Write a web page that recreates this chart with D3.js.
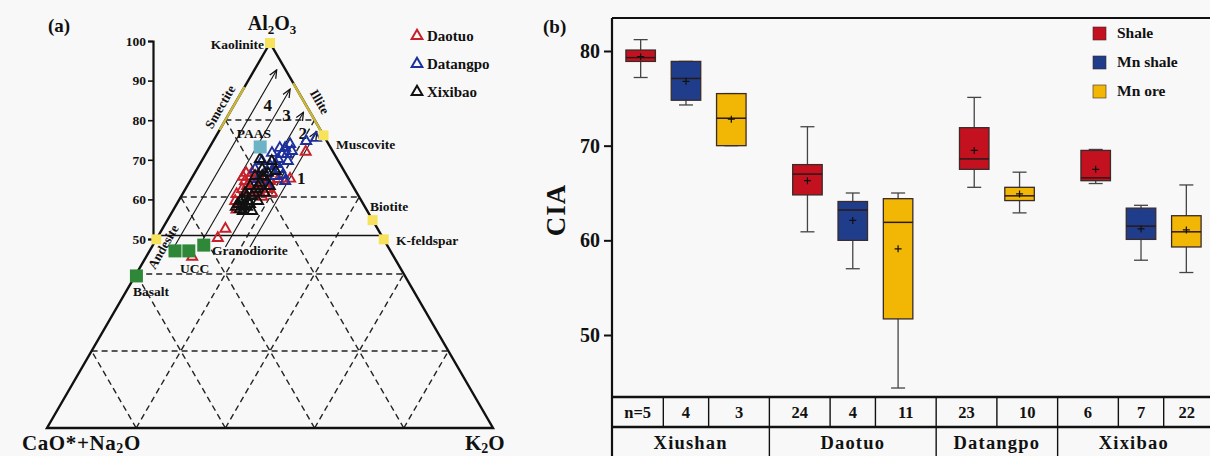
<!DOCTYPE html>
<html>
<head>
<meta charset="utf-8">
<script src="https://cdn.jsdelivr.net/npm/d3@7/dist/d3.min.js"></script>
<style>
  body { margin: 0; background: #f8f8f8; }
  svg { display: block; font-family: "Liberation Serif", "Times New Roman", serif; font-weight: bold; }
</style>
</head>
<body>
<div id="chart"></div>
<script>
// ---------- (a) A-CN-K ternary data (wt%, CN = 100 - A - K) ----------
var daotuoA = [72, 65, 57, 61, 52, 49.6, 44.7, 64.4, 65.5, 63.6, 64.9, 62.3, 61.8, 61.8, 63.1, 64.4, 64.9, 60.5, 60.3, 59.2, 66.5, 61.3, 65.5, 66.5, 66, 63.1, 62.3];
var daotuoK = [22, 22, 14, 12, 14, 13.5, 10.2, 12.2, 12.7, 14.8, 15.3, 12.6, 14.2, 16.4, 17.3, 17.8, 19.4, 15.7, 18.1, 12.6, 11.4, 19.8, 11.2, 12.7, 14.3, 13.3, 18.4];
var datangpoA = [74.8, 75.6, 73, 74, 71.4, 72.2, 70.1, 68.3, 67.5, 66.5, 65.7, 69.6, 64.9, 64.4, 63.1, 67.5, 69.6, 71.7, 73, 71.4, 68.8, 66];
var datangpoK = [20.7, 22.5, 16.9, 17.5, 17, 18.8, 16.8, 15.9, 18.5, 15.6, 18.3, 13.4, 14.9, 21.2, 18, 12.9, 19.2, 14.6, 15.7, 18.1, 16.9, 19.9];
var xixibaoA = [70.1, 69.6, 56.6, 58.4, 59.7, 59.2, 61.3, 60.5, 62.3, 63.9, 65.5, 67.5, 66.5, 65.7, 63.1, 61.3, 57.1, 59.2, 63.1, 67, 57.7, 57.7, 59.2, 57.9, 58.4, 60.3, 61.3, 56.6, 63.1, 65.7];
var xixibaoK = [12.7, 15.6, 17.7, 13.6, 13.9, 15.5, 13.8, 15.7, 15.7, 15.8, 15.9, 14.5, 16.3, 13.8, 14, 18.2, 14.7, 17.7, 18.4, 17.8, 13.5, 16, 13.7, 15.2, 16.3, 14.5, 15.8, 15.6, 15.8, 15.4];

var mineralNames = ["Kaolinite", "Muscovite", "Biotite", "K-feldspar", ""];
var mineralA = [100, 76, 54, 49, 49];
var mineralK = [0, 24, 46, 51, 0];

var rockNames = ["Andesite", "UCC", "Granodiorite", "Basalt"];
var rockA = [46, 46, 47.5, 39.5];
var rockK = [5.7, 8.8, 11.4, 0.3];

var paasA = 73, paasK = 11.3;

// ideal weathering trends (constant K), numbered 1-4
var trendLabels = ["1", "2", "3", "4"];
var trendK = [22, 16.5, 10.5, 5];
var trendAStart = [47, 47, 47, 47];
var trendAEnd = [77, 82, 88, 93];

var gridLevels = [20, 40, 60, 80];
var axisTicks = [50, 60, 70, 80, 90, 100];

// ---------- (b) CIA box plots ----------
var sites = ["Xiushan", "Daotuo", "Datangpo", "Xixibao"];
var rockTypes = ["Shale", "Mn shale", "Mn ore"];
var boxSite = ["Xiushan", "Xiushan", "Xiushan", "Daotuo", "Daotuo", "Daotuo", "Datangpo", "Datangpo", "Xixibao", "Xixibao", "Xixibao"];
var boxType = ["Shale", "Mn shale", "Mn ore", "Shale", "Mn shale", "Mn ore", "Shale", "Mn ore", "Shale", "Mn shale", "Mn ore"];
var boxN = ["n=5", "4", "3", "24", "4", "11", "23", "10", "6", "7", "22"];
var ciaMin = [77.2, 74.3, 70.0, 60.9, 57.0, 44.4, 65.6, 62.9, 66.0, 57.9, 56.6];
var ciaQ1 = [78.9, 74.8, 70.0, 64.8, 60.0, 51.7, 67.5, 64.2, 66.3, 60.1, 59.3];
var ciaMedian = [79.3, 77.1, 72.9, 67.0, 63.2, 61.9, 68.6, 64.7, 66.6, 61.5, 60.9];
var ciaQ3 = [80.1, 78.9, 75.5, 68.0, 64.1, 64.4, 71.9, 65.6, 69.5, 63.4, 62.6];
var ciaMax = [81.2, 78.9, 75.5, 72.0, 65.0, 65.0, 75.1, 67.2, 69.6, 63.7, 65.85];
var ciaMean = [79.4, 76.8, 72.8, 66.3, 62.1, 59.1, 69.5, 64.9, 67.5, 61.2, 61.1];
var ciaTicks = [50, 60, 70, 80];

var W = 1210, H = 456;
var svg = d3.select("#chart").append("svg").attr("width", W).attr("height", H);

// ===================== panel (a) =====================
var ga = svg.append("g");
var baseX = d3.scaleLinear().domain([0, 100]).range([47, 493]);
var yA = d3.scaleLinear().domain([0, 100]).range([428, 43]);
function px(A, K) { return baseX(K + A / 2); }
function py(A) { return yA(A); }

// dashed grid
var gridLines = [];
gridLevels.forEach(function(v) {
  gridLines.push([[v, 0], [v, 100 - v]]);          // constant A
  gridLines.push([[0, v], [100 - v, v]]);          // constant K
  gridLines.push([[0, 100 - v], [100 - v, 0]]);    // constant CN
});
ga.selectAll(".grid").data(gridLines).enter().append("line")
  .attr("x1", function(d) { return px(d[0][0], d[0][1]); })
  .attr("y1", function(d) { return py(d[0][0]); })
  .attr("x2", function(d) { return px(d[1][0], d[1][1]); })
  .attr("y2", function(d) { return py(d[1][0]); })
  .attr("stroke", "#222").attr("stroke-width", 1.4).attr("stroke-dasharray", "6,4");

// outline
ga.append("path")
  .attr("d", "M" + px(100, 0) + "," + py(100) + "L" + px(0, 0) + "," + py(0) + "L" + px(0, 100) + "," + py(0) + "Z")
  .attr("fill", "none").attr("stroke", "#111").attr("stroke-width", 2.4);
ga.append("line")
  .attr("x1", px(50, 0)).attr("y1", py(50)).attr("x2", px(50, 50)).attr("y2", py(50))
  .attr("stroke", "#111").attr("stroke-width", 1.7);

// smectite / illite bands
ga.append("line").attr("x1", px(77.4, 0)).attr("y1", py(77.4)).attr("x2", px(88.6, 0)).attr("y2", py(88.6))
  .attr("stroke", "#c9b63a").attr("stroke-width", 2.4);
ga.append("line").attr("x1", px(76.6, 23.4)).attr("y1", py(76.6)).attr("x2", px(89.6, 10.4)).attr("y2", py(89.6))
  .attr("stroke", "#c9b63a").attr("stroke-width", 2.4);

// weathering trend arrows
svg.append("defs").append("marker")
  .attr("id", "arr").attr("viewBox", "0 0 10 10").attr("refX", 9).attr("refY", 5)
  .attr("markerWidth", 9).attr("markerHeight", 9).attr("markerUnits", "userSpaceOnUse").attr("orient", "auto")
  .append("path").attr("d", "M0,1 L9,5 L0,9").attr("fill", "none").attr("stroke", "#111").attr("stroke-width", 1.4);
ga.selectAll(".trend").data(trendK).enter().append("line")
  .attr("x1", function(d, i) { return px(trendAStart[i], d); })
  .attr("y1", function(d, i) { return py(trendAStart[i]); })
  .attr("x2", function(d, i) { return px(trendAEnd[i], d); })
  .attr("y2", function(d, i) { return py(trendAEnd[i]); })
  .attr("stroke", "#111").attr("stroke-width", 1.1).attr("marker-end", "url(#arr)");
var trendLabelA = [65, 76.6, 81.3, 83.9];
ga.selectAll(".tl").data(trendLabels).enter().append("text")
  .attr("x", function(d, i) { return px(trendLabelA[i], trendK[i]) + 7; })
  .attr("y", function(d, i) { return py(trendLabelA[i]) + 6; })
  .attr("font-size", 17).attr("fill", "#111").text(function(d) { return d; });

// left axis
var axisY = d3.scaleLinear().domain([50, 100]).range([239, 41]);
var axA = ga.append("g").attr("transform", "translate(153,0)")
  .call(d3.axisLeft(axisY).tickValues(axisTicks).tickSize(5).tickPadding(2));
axA.select(".domain").attr("stroke", "#111").attr("stroke-width", 2.2);
axA.selectAll(".tick line").attr("stroke", "#111").attr("stroke-width", 1.6);
axA.selectAll(".tick text").attr("font-family", "Liberation Serif, serif").attr("font-weight", "bold")
  .attr("font-size", 13.5).attr("fill", "#111");

// sample triangles
var tri = d3.symbol().type(d3.symbolTriangle).size(44);
var groups = [
  { name: "Daotuo", A: daotuoA, K: daotuoK, color: "#c8202b" },
  { name: "Datangpo", A: datangpoA, K: datangpoK, color: "#1c2f9c" },
  { name: "Xixibao", A: xixibaoA, K: xixibaoK, color: "#111111" }
];
groups.forEach(function(g) {
  ga.selectAll(null).data(g.A).enter().append("path")
    .attr("d", tri)
    .attr("transform", function(d, i) { return "translate(" + px(d, g.K[i]) + "," + (py(d) + 1) + ")"; })
    .attr("fill", "none").attr("stroke", g.color).attr("stroke-width", 1.9);
});

// minerals
ga.selectAll(".min").data(mineralA).enter().append("rect")
  .attr("x", function(d, i) { return px(d, mineralK[i]) - 5; })
  .attr("y", function(d) { return py(d) - 5; })
  .attr("width", 10).attr("height", 10).attr("fill", "#f7e25c");
// rocks
ga.selectAll(".rock").data(rockA).enter().append("rect")
  .attr("x", function(d, i) { return px(d, rockK[i]) - 6.5; })
  .attr("y", function(d) { return py(d) - 6.5; })
  .attr("width", 13).attr("height", 13).attr("fill", "#2e8838");
// PAAS
ga.append("rect").attr("x", px(paasA, paasK) - 6.5).attr("y", py(paasA) - 6.5)
  .attr("width", 13).attr("height", 13).attr("fill", "#6db3c6");

// labels
function lab(x, y, t, size, anchor, rot) {
  var e = ga.append("text").attr("x", x).attr("y", y).attr("font-size", size)
    .attr("text-anchor", anchor || "start").attr("fill", "#111").text(t);
  if (rot) e.attr("transform", "rotate(" + rot + "," + x + "," + y + ")");
  return e;
}
lab(264, 49, "Kaolinite", 13.5, "end");
lab(336, 149, "Muscovite", 13.5);
lab(370, 211, "Biotite", 13.5);
lab(396, 245, "K-feldspar", 13.5);
lab(212, 255, "Granodiorite", 13.5);
lab(180, 273, "UCC", 13.5);
lab(133, 296, "Basalt", 13.5);
lab(254, 138, "PAAS", 13.5, "middle");
lab(167, 249, "Andesite", 13, "middle", -60);
lab(224, 109, "Smectite", 13, "middle", -60);
lab(316, 104, "Illite", 13, "middle", 60);

lab(48, 32, "(a)", 19);
var t1 = lab(272, 30, "Al", 20, "middle");
t1.append("tspan").attr("font-size", 13).attr("dy", 4).text("2");
t1.append("tspan").attr("dy", -4).text("O");
t1.append("tspan").attr("font-size", 13).attr("dy", 4).text("3");
var t2 = lab(22, 450, "CaO*+Na", 21).attr("letter-spacing", 0.6);
t2.append("tspan").attr("font-size", 14).attr("dy", 3).text("2");
t2.append("tspan").attr("dy", -3).text("O");
var t3 = lab(465, 450, "K", 21);
t3.append("tspan").attr("font-size", 14).attr("dy", 3).text("2");
t3.append("tspan").attr("dy", -3).text("O");

// legend (a)
groups.forEach(function(g, i) {
  ga.append("path").attr("d", d3.symbol().type(d3.symbolTriangle).size(50))
    .attr("transform", "translate(417," + (36 + i * 28) + ")")
    .attr("fill", "none").attr("stroke", g.color).attr("stroke-width", 2);
  lab(427, 41 + i * 28, g.name, 15);
});

// ===================== panel (b) =====================
var gb = svg.append("g");
var plotL = 612, plotT = 18, plotB = 397;
var typeColor = d3.scaleOrdinal().domain(rockTypes).range(["#c4111f", "#1f3d8b", "#f2b705"]);

// slot positions: one slot per box, a gap between sites
var slot = [], pos = 0, siteGap = 0.68;
boxSite.forEach(function(s, i) {
  if (i > 0 && s !== boxSite[i - 1]) pos += siteGap;
  slot.push(pos + 0.5);
  pos += 1;
});
var x = d3.scaleLinear().domain([0, pos]).range([618, 1209]);
var y = d3.scaleLinear().domain([80, 50]).range([51, 335]);
var bw = 29.5;

// frame
gb.append("line").attr("x1", plotL).attr("x2", W).attr("y1", plotT).attr("y2", plotT)
  .attr("stroke", "#111").attr("stroke-width", 2.2);
var axB = gb.append("g").attr("transform", "translate(" + plotL + ",0)")
  .call(d3.axisLeft(y).tickValues(ciaTicks).tickSize(8).tickPadding(4));
axB.select(".domain").remove();
axB.selectAll(".tick line").attr("stroke", "#111").attr("stroke-width", 2);
axB.selectAll(".tick text").attr("font-family", "Liberation Serif, serif").attr("font-weight", "bold")
  .attr("font-size", 20).attr("fill", "#111");
gb.append("line").attr("x1", plotL).attr("x2", plotL).attr("y1", plotT).attr("y2", H)
  .attr("stroke", "#111").attr("stroke-width", 2.2);
gb.append("text").attr("transform", "translate(565,210) rotate(-90)")
  .attr("text-anchor", "middle").attr("font-size", 27).attr("letter-spacing", 1).attr("fill", "#111").text("CIA");
gb.append("text").attr("x", 543).attr("y", 33).attr("font-size", 19).attr("fill", "#111").text("(b)");

// boxes
var bx = gb.selectAll(".box").data(boxType).enter().append("g")
  .attr("transform", function(d, i) { return "translate(" + x(slot[i]) + ",0)"; });
bx.append("line").attr("x1", 0).attr("x2", 0)
  .attr("y1", function(d, i) { return y(ciaMax[i]); }).attr("y2", function(d, i) { return y(ciaMin[i]); })
  .attr("stroke", "#444").attr("stroke-width", 1.3);
bx.append("line").attr("x1", -7).attr("x2", 7)
  .attr("y1", function(d, i) { return y(ciaMax[i]); }).attr("y2", function(d, i) { return y(ciaMax[i]); })
  .attr("stroke", "#444").attr("stroke-width", 1.3);
bx.append("line").attr("x1", -7).attr("x2", 7)
  .attr("y1", function(d, i) { return y(ciaMin[i]); }).attr("y2", function(d, i) { return y(ciaMin[i]); })
  .attr("stroke", "#444").attr("stroke-width", 1.3);
bx.append("rect").attr("x", -bw / 2).attr("width", bw)
  .attr("y", function(d, i) { return y(ciaQ3[i]); })
  .attr("height", function(d, i) { return y(ciaQ1[i]) - y(ciaQ3[i]); })
  .attr("fill", function(d) { return typeColor(d); })
  .attr("stroke", "#3a2a2a").attr("stroke-width", 1.3);
bx.append("line").attr("x1", -bw / 2).attr("x2", bw / 2)
  .attr("y1", function(d, i) { return y(ciaMedian[i]); }).attr("y2", function(d, i) { return y(ciaMedian[i]); })
  .attr("stroke", "#2a1a1a").attr("stroke-width", 1.5);
bx.append("path")
  .attr("d", function(d, i) { var m = y(ciaMean[i]); return "M-3.5," + m + "H3.5M0," + (m - 3.5) + "V" + (m + 3.5); })
  .attr("stroke", "#111").attr("stroke-width", 1.2);

// legend (b)
rockTypes.forEach(function(t, i) {
  var yy = 27 + i * 29;
  gb.append("rect").attr("x", 1093).attr("y", yy).attr("width", 13).attr("height", 13)
    .attr("fill", typeColor(t)).attr("stroke", "#3a2a2a").attr("stroke-width", 0.6);
  gb.append("text").attr("x", 1117).attr("y", yy + 11).attr("font-size", 15.5).attr("fill", "#111").text(t);
});

// n / site table
var edges = [plotL];
for (var i = 1; i < slot.length; i++) edges.push((x(slot[i - 1]) + x(slot[i])) / 2);
edges.push(W);
var rowTop = plotB, rowMid = 427, rowBot = H;
gb.append("line").attr("x1", plotL).attr("x2", W).attr("y1", rowTop).attr("y2", rowTop).attr("stroke", "#111").attr("stroke-width", 2.4);
gb.append("line").attr("x1", plotL).attr("x2", W).attr("y1", rowMid).attr("y2", rowMid).attr("stroke", "#111").attr("stroke-width", 2.4);
gb.selectAll(".ncell").data(edges.slice(1, -1)).enter().append("line")
  .attr("x1", function(d) { return d; }).attr("x2", function(d) { return d; })
  .attr("y1", rowTop).attr("y2", rowMid).attr("stroke", "#111").attr("stroke-width", 1.4);
gb.selectAll(".ntext").data(boxN).enter().append("text")
  .attr("x", function(d, i) { return (edges[i] + edges[i + 1]) / 2; })
  .attr("y", 418).attr("text-anchor", "middle").attr("font-size", 16.5).attr("fill", "#111")
  .text(function(d) { return d; });
sites.forEach(function(s) {
  var first = boxSite.indexOf(s), last = boxSite.lastIndexOf(s);
  var l = edges[first], r = edges[last + 1];
  if (first > 0) gb.append("line").attr("x1", l).attr("x2", l).attr("y1", rowMid).attr("y2", rowBot)
    .attr("stroke", "#111").attr("stroke-width", 1.4);
  gb.append("text").attr("x", (l + r) / 2).attr("y", 449).attr("text-anchor", "middle")
    .attr("font-size", 18.5).attr("letter-spacing", 1.2).attr("fill", "#111").text(s);
});
</script>
</body>
</html>
